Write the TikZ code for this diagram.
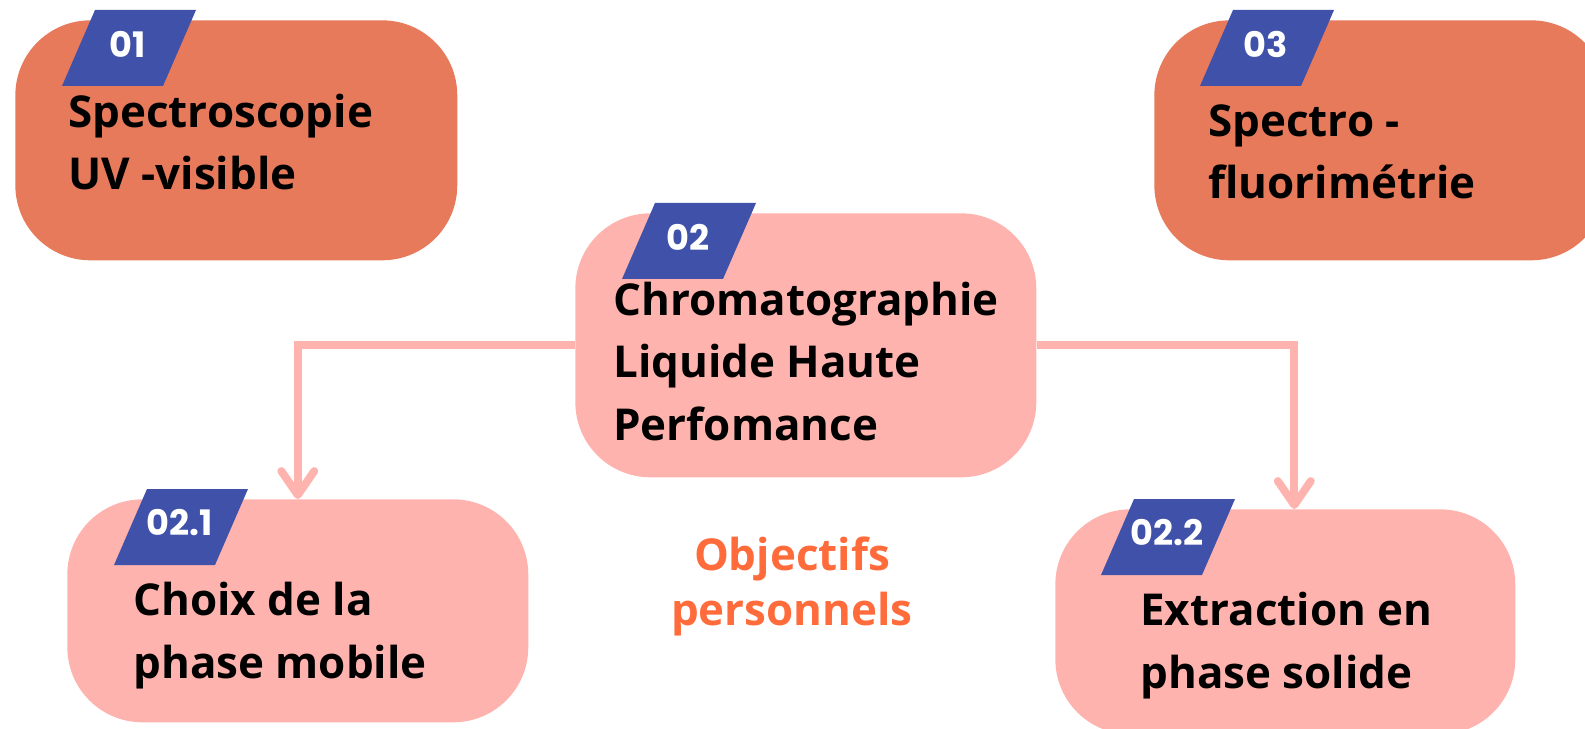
\documentclass[tikz,border=0pt]{standalone}
\usepackage{fontspec}
\setmainfont{Open Sans}
\newfontfamily\tagfont{Poppins}
\usetikzlibrary{arrows.meta}
\usetikzlibrary{calc}
\usetikzlibrary{positioning}
\definecolor{boxorange}{HTML}{E77A5B}
\definecolor{boxpink}{HTML}{FFB3AE}
\definecolor{tagblue}{HTML}{3F51A9}
\definecolor{goalorange}{HTML}{FF6B3B}

\begin{document}
\begin{tikzpicture}
	[
	x=0.02cm, y=-0.02cm,
  box/.style = {rectangle, rounded corners=1.5cm, anchor=north west, inner sep=0pt},
  tagnum/.style = {inner sep=0pt, text=white, font=\tagfont\bfseries\fontsize{20}{24}\selectfont},
  boxtext/.style = {anchor=base west, align=left, inner sep=0pt, font=\bfseries\fontsize{25}{35.3}\selectfont},
  goal/.style = {anchor=base, align=center, inner sep=0pt, text=goalorange, font=\bfseries\fontsize{25}{31.3}\selectfont},
  conn/.style = {draw=boxpink, line width=4.5pt, -{Straight Barb[length=0.48cm, width=0.66cm, round]}}
  ]
	\clip (0,0) rectangle (1585,729);

	\node[box, fill=boxorange, minimum width=8.84cm, minimum height=4.8cm] (b1) at (15,20) {};
	\node[box, fill=boxorange, minimum width=9.04cm, minimum height=4.8cm] (b3) at (1154,20) {};
	\node[box, fill=boxpink, minimum width=9.22cm, minimum height=5.28cm] (b2) at (575,213) {};
	\node[box, fill=boxpink, minimum width=9.22cm, minimum height=4.46cm] (b21) at (67,499) {};
	\node[box, fill=boxpink, minimum width=9.2cm, minimum height=4.5cm] (b22) at (1055,509) {};

	% number tags
	\foreach \b/\n/\dx in {b1/01/47, b2/02/47, b3/03/46, b21/02.1/47, b22/02.2/46} {
		\fill[tagblue] ($(\b.north west)+(\dx,66)$) -- ++(33,-76) -- ++(101,0) -- ++(-33,76) -- cycle;
		\node[tagnum] (t\b) at ($(\b.north west)+(\dx,24)+(66,0)$) {\n};
	}

	% last baselines
	\node[boxtext] (l1) at (68,190) {Spectroscopie\\UV -visible};
	\node[boxtext] (l3) at (1208,199) {Spectro -\\fluorimétrie};
	\node[boxtext] (l2) at (613,440) {Chromatographie\\Liquide Haute\\Perfomance};
	\node[boxtext] (l21) at (133,678) {Choix de la\\phase mobile};
	\node[boxtext] (l22) at (1140,688) {Extraction en\\phase solide};
	\node[goal] (obj) at (792,625) {Objectifs\\personnels};

	\draw[conn] (b2.west) -| (b21.north);
	\draw[conn] (b2.east) -| ([xshift=0.18cm]b22.north);
	\end{tikzpicture}
\end{document}
